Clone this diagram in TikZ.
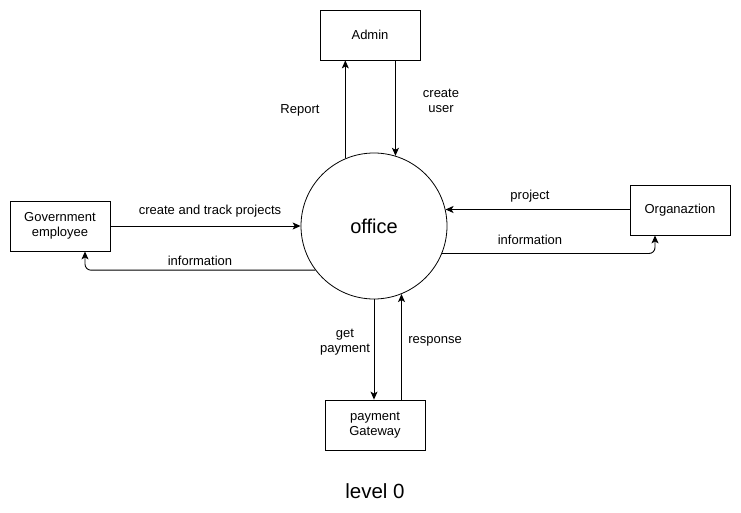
\documentclass[tikz,border=0pt]{standalone}
\usepackage{fontspec}
\setmainfont{Liberation Sans}
\usetikzlibrary{arrows.meta, positioning, calc}

\begin{document}
\begin{tikzpicture}[x=1pt, y=-1pt, font=\fontsize{13}{15}\selectfont]
\useasboundingbox (0,0) rectangle (741,513);

\begin{scope}[every node/.style={shape=rectangle,
    draw, align=center, line width=0.8pt,
    minimum width=100pt, minimum height=50pt}]
    \node (admin) at (370,35) {Admin};
    \node (gov) at (60,226) {Government\\employee};
    \node (org) at (680,210) {Organaztion};
    \node (pay) at (375,425) {payment\\Gateway};
\end{scope}

\node[circle, draw, line width=0.8pt, minimum size=146pt, font=\fontsize{20}{24}\selectfont] (office) at (374,226) {office};
\node[font=\fontsize{20.5}{24}\selectfont] (level) at (375,491) {level 0};

\coordinate (govin) at ($(gov.south)+(25,0)$);
\coordinate (orgin) at ($(org.south)+(-25,0)$);

\begin{scope}[every node/.style={align=center},
              every edge/.style={draw, line width=0.9pt,
                -{Stealth[length=8pt, width=7pt, inset=2pt]}},
              elbow/.style={rounded corners=6pt, to path={-| (\tikztotarget)}}]
    \path (office.113) edge (office.113 |- admin.south);
    \path (admin.south -| office.73) edge (office.73);
    \path (gov.east) edge (office.west);
    \path (office.217) edge[elbow] (govin);
    \path (office.13 -| org.west) edge (office.13);
    \path (office.-22) edge[elbow] (orgin);
    \path (office.south) edge (office.south |- pay.north);
    \path (pay.north -| office.-68) edge (office.-68);
\end{scope}

\node (l1) at (300,110) {Report};
\node[align=center] (l2) at (441,101) {create\\user};
\node (l3) at (210,211) {create and track projects};
\node (l4) at (200,261) {information};
\node (l5) at (530,196) {project};
\node (l6) at (530,240) {information};
\node[align=center] (l7) at (345,342) {get\\payment};
\node (l8) at (435,341) {response};
\end{tikzpicture}
\end{document}
